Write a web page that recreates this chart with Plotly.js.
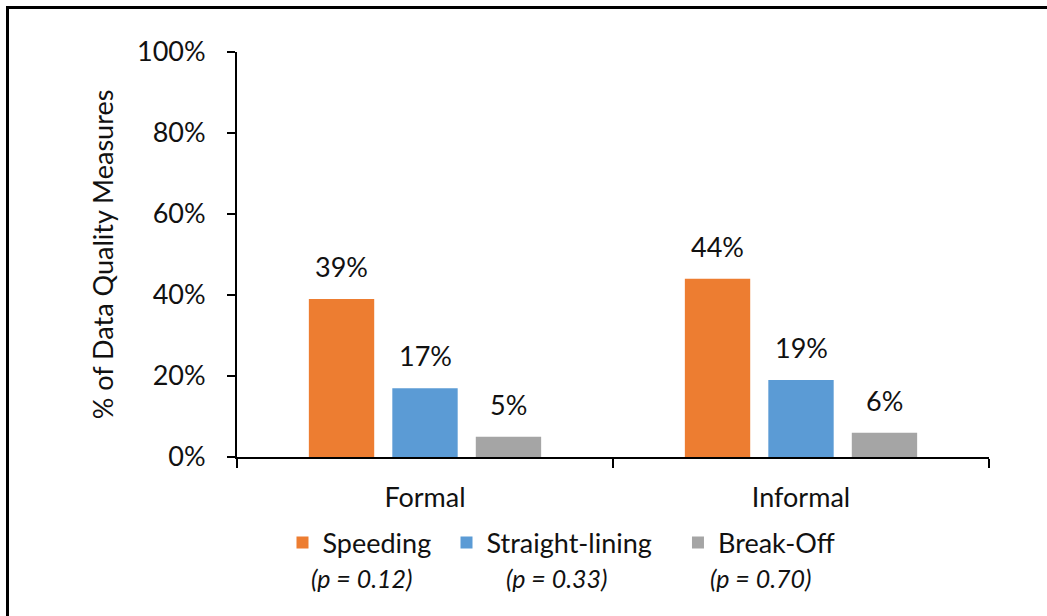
<!DOCTYPE html>
<html>
<head>
<meta charset="utf-8">
<script src="https://cdn.plot.ly/plotly-3.0.1.min.js"></script>
<style>
  html, body { margin: 0; padding: 0; background: #ffffff; }
  #frame {
    position: absolute; left: 6px; top: 6px; width: 1100px; height: 700px;
    border-top: 3px solid #000; border-left: 3px solid #000;
  }
  #chart { position: absolute; left: 0; top: 0; width: 1047px; height: 616px; }
</style>
</head>
<body>
<div id="frame"></div>
<div id="chart"></div>
<script>
// Survey mode categories and the share of each data quality problem (%)
const categories = ['Formal', 'Informal'];
const seriesNames = ['Speeding', 'Straight-lining', 'Break-Off'];
const speeding = [39, 44];
const straightLining = [17, 19];
const breakOff = [5, 6];
const pValues = ['0.12', '0.33', '0.70'];
const yTickValues = [0, 20, 40, 60, 80, 100];

const seriesValues = [speeding, straightLining, breakOff];
const colors = ['#ED7D31', '#5B9BD5', '#A5A5A5'];
const textColor = '#111111';
const fontFamily = 'Lato, "Open Sans", sans-serif';
const bargap = 0.334;
const legendIds = ['legend', 'legend2', 'legend3'];
const legendX = [0.0605, 0.2786, 0.5864];   // left edge of each legend entry (paper)
const pNoteX = [0.166, 0.4255, 0.697];      // centre of each p-value note (paper)

const traces = seriesValues.map((vals, k) => ({
  type: 'bar',
  name: seriesNames[k],
  x: categories,
  y: vals,
  legend: legendIds[k],
  marker: { color: colors[k] },
  hoverinfo: 'skip'
}));

// value labels above each bar, placed at the bar's slot within the group
const slot = (1 - bargap) / seriesValues.length;
const annotations = [];
seriesValues.forEach((vals, k) => {
  vals.forEach((v, i) => {
    annotations.push({
      x: i + (k - (seriesValues.length - 1) / 2) * slot,
      y: v, xref: 'x', yref: 'y',
      text: v + '%', showarrow: false,
      yanchor: 'bottom', yshift: 14,
      font: { family: fontFamily, size: 27, color: textColor }
    });
  });
});

// significance notes under each legend entry
pValues.forEach((p, k) => {
  annotations.push({
    x: pNoteX[k], y: -0.299, xref: 'paper', yref: 'paper',
    text: '<i>(p = ' + p + ')</i>', showarrow: false,
    xanchor: 'center', yanchor: 'middle',
    font: { family: fontFamily, size: 25, color: textColor }
  });
});

const layout = {
  width: 1047, height: 616,
  margin: { l: 237, r: 58, t: 52, b: 159 },
  paper_bgcolor: 'rgba(0,0,0,0)',
  plot_bgcolor: 'rgba(0,0,0,0)',
  barmode: 'group',
  bargap: bargap,
  bargroupgap: 0.217,
  font: { family: fontFamily, color: textColor, size: 27 },
  showlegend: true,
  xaxis: {
    type: 'category',
    showline: true, linecolor: '#000', linewidth: 2,
    ticks: 'outside', tickson: 'boundaries', ticklen: 9, tickwidth: 2, tickcolor: '#000',
    ticklabelstandoff: 16,
    tickfont: { family: fontFamily, size: 27, color: textColor },
    showgrid: false, zeroline: false, fixedrange: true
  },
  yaxis: {
    range: [0, 100],
    tickvals: yTickValues,
    ticktext: yTickValues.map(v => v + '%'),
    showline: true, linecolor: '#000', linewidth: 2,
    ticks: 'outside', ticklen: 8, tickwidth: 2, tickcolor: '#000',
    ticklabelstandoff: 16,
    tickfont: { family: fontFamily, size: 27, color: textColor },
    showgrid: false, zeroline: false, fixedrange: true,
    title: {
      text: '% of Data Quality Measures',
      font: { family: fontFamily, size: 27, color: textColor },
      standoff: 16
    }
  },
  annotations: annotations
};

legendIds.forEach((id, k) => {
  layout[id] = {
    orientation: 'h', x: legendX[k], xanchor: 'left', y: -0.212, yanchor: 'middle',
    font: { family: fontFamily, size: 27, color: textColor },
    bgcolor: 'rgba(0,0,0,0)',
    itemclick: false, itemdoubleclick: false
  };
});

Plotly.newPlot('chart', traces, layout, { staticPlot: true, displayModeBar: false });
</script>
</body>
</html>
